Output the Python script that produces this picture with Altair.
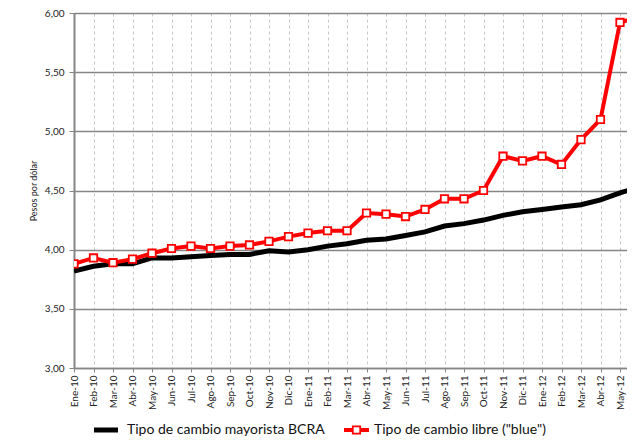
import altair as alt
import pandas as pd

months = ["Ene-10", "Feb-10", "Mar-10", "Abr-10", "May-10", "Jun-10", "Jul-10", "Ago-10", "Sep-10", "Oct-10",
          "Nov-10", "Dic-10", "Ene-11", "Feb-11", "Mar-11", "Abr-11", "May-11", "Jun-11", "Jul-11", "Ago-11",
          "Sep-11", "Oct-11", "Nov-11", "Dic-11", "Ene-12", "Feb-12", "Mar-12", "Abr-12", "May-12", "Jun-12"]

bcra = [3.82, 3.86, 3.88, 3.88, 3.93, 3.93, 3.94, 3.95, 3.96, 3.96,
        3.99, 3.98, 4.00, 4.03, 4.05, 4.08, 4.09, 4.12, 4.15, 4.20,
        4.22, 4.25, 4.29, 4.32, 4.34, 4.36, 4.38, 4.42, 4.48, 4.53]

blue = [3.88, 3.93, 3.89, 3.92, 3.97, 4.01, 4.03, 4.01, 4.03, 4.04,
        4.07, 4.11, 4.14, 4.16, 4.16, 4.31, 4.30, 4.28, 4.34, 4.43,
        4.43, 4.50, 4.79, 4.75, 4.79, 4.72, 4.93, 5.10, 5.92, 5.97]

y_ticks = [3.0, 3.5, 4.0, 4.5, 5.0, 5.5, 6.0]

FONT = "Lato"
W = 553
H = 355
STEP = 19.5

df = pd.DataFrame({
    "idx": list(range(len(months))),
    "mes": months,
    "bcra": bcra,
    "blue": blue,
})

label_arr = "[" + ",".join("'" + m + "'" for m in months) + "]"

x_enc = alt.X(
    "idx:Q",
    scale=alt.Scale(domain=[0, W / STEP], nice=False, zero=False),
    axis=alt.Axis(
        values=list(range(len(months))),
        tickCount=60,
        labelExpr=label_arr + "[datum.value]",
        labelAngle=270,
        labelFont=FONT,
        labelFontSize=10,
        labelColor="#222222",
        labelPadding=3,
        tickSize=4,
        tickColor="#868686",
        domainColor="#868686",
        domainWidth=1.5,
        grid=True,
        gridColor="#c8c8c8",
        gridDash=[3, 3],
        gridWidth=1,
        title=None,
        labelOverlap=False,
    ),
)

y_scale = alt.Scale(domain=[3, 6], nice=False, zero=False)
y_axis = alt.Axis(
    values=y_ticks,
    tickCount=20,
    labelExpr="replace(format(datum.value, '.2f'), '.', ',')",
    labelFont=FONT,
    labelFontSize=10,
    labelColor="#222222",
    labelPadding=5,
    tickSize=5,
    tickColor="#868686",
    domainColor="#868686",
    domainWidth=2,
    grid=True,
    gridColor="#868686",
    gridWidth=1.5,
    title="Pesos por dólar",
    titleFont=FONT,
    titleFontSize=9,
    titleFontWeight="normal",
    titleColor="#222222",
    titlePadding=6,
)

base = alt.Chart(df)

line_bcra = base.mark_line(color="#000000", strokeWidth=5, clip=True).encode(
    x=x_enc, y=alt.Y("bcra:Q", scale=y_scale, axis=y_axis)
)
line_blue = base.mark_line(color="#ff0000", strokeWidth=4, clip=True).encode(
    x=alt.X("idx:Q"), y=alt.Y("blue:Q")
)
pts_blue = base.mark_point(
    shape="square", filled=True, fill="#ffffff", stroke="#ff0000", strokeWidth=1.8,
    size=55, opacity=1, clip=True
).encode(x=alt.X("idx:Q"), y=alt.Y("blue:Q"))

one = alt.Chart(pd.DataFrame({"a": [0]}))
LY = 417
leg1_line = one.mark_rule(color="#000000", strokeWidth=5).encode(
    x=alt.value(20), x2=alt.value(44), y=alt.value(LY)
)
leg1_text = one.mark_text(align="left", baseline="middle", font=FONT, fontSize=14, color="#111111").encode(
    x=alt.value(53), y=alt.value(LY), text=alt.value("Tipo de cambio mayorista BCRA")
)
leg2_line = one.mark_rule(color="#ff0000", strokeWidth=4).encode(
    x=alt.value(270), x2=alt.value(295), y=alt.value(LY)
)
leg2_pt = one.mark_point(shape="square", filled=True, fill="#ffffff", stroke="#ff0000",
                         strokeWidth=1.8, size=55, opacity=1).encode(
    x=alt.value(282.5), y=alt.value(LY)
)
leg2_text = one.mark_text(align="left", baseline="middle", font=FONT, fontSize=14, color="#111111").encode(
    x=alt.value(300), y=alt.value(LY), text=alt.value('Tipo de cambio libre ("blue")')
)

chart = alt.layer(
    line_bcra, line_blue, pts_blue, leg1_line, leg1_text, leg2_line, leg2_pt, leg2_text
).properties(
    width=W,
    height=H,
    autosize=alt.AutoSizeParams(type="none"),
    padding={"left": 66, "top": 5, "right": 0, "bottom": 70},
).configure_view(stroke=None).configure(background="#ffffff")

chart.save("out.html", embed_options={"renderer": "svg", "actions": False})
